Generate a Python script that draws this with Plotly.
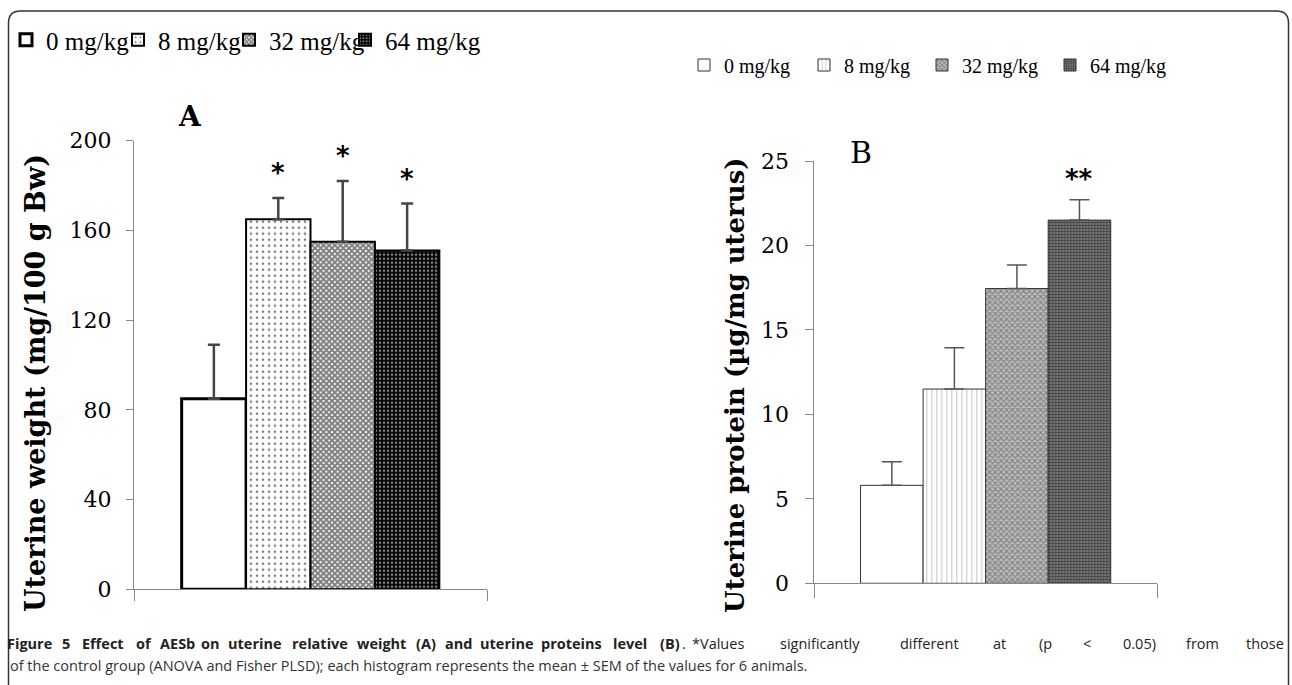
import plotly.graph_objects as go

# ---------------- data ----------------
doses = ["0 mg/kg", "8 mg/kg", "32 mg/kg", "64 mg/kg"]
weight_mean = [85, 165, 155, 151]
weight_sem = [24, 9.5, 27, 21]
weight_sig = ["", "*", "*", "*"]
protein_mean = [5.8, 11.5, 17.45, 21.5]
protein_sem = [1.4, 2.45, 1.4, 1.2]
protein_sig = ["", "", "", "**"]
weight_ticks = [0, 40, 80, 120, 160, 200]
protein_ticks = [0, 5, 10, 15, 20, 25]
weight_title = "Uterine weight (mg/100 g Bw)"
protein_title = "Uterine protein (\u00b5g/mg uterus)"
caption_bold = "Figure 5 Effect of AESb on uterine relative weight (A) and uterine proteins level (B)"
caption_line1 = "*Values significantly different at (p &lt; 0.05) from those"
caption_line2 = "of the control group (ANOVA and Fisher PLSD); each histogram represents the mean \u00b1 SEM of the values for 6 animals."

# ---------------- styles / layout ----------------
W, H = 1292, 685
BARGAP = 0.27


def px(x):
    return x / W


def py(y):
    return 1 - y / H


style_A = [
    dict(color="white", line=dict(color="black", width=3), pattern=dict(shape="")),
    dict(color="white", line=dict(color="black", width=2),
         pattern=dict(shape=".", bgcolor="white", fgcolor="black", size=6, solidity=0.15)),
    dict(color="white", line=dict(color="black", width=2),
         pattern=dict(shape="x", bgcolor="white", fgcolor="black", size=4, solidity=0.75)),
    dict(color="black", line=dict(color="black", width=2),
         pattern=dict(shape=".", bgcolor="black", fgcolor="white", size=4, solidity=0.35)),
]
style_B = [
    dict(color="white", line=dict(color="#333", width=1), pattern=dict(shape="")),
    dict(color="white", line=dict(color="#333", width=1),
         pattern=dict(shape="|", bgcolor="white", fgcolor="#8a8a8a", size=5, solidity=0.2)),
    dict(color="#999", line=dict(color="#333", width=1),
         pattern=dict(shape="x", bgcolor="#bdbdbd", fgcolor="#4a4a4a", size=4, solidity=0.5)),
    dict(color="#444", line=dict(color="#333", width=1),
         pattern=dict(shape="+", bgcolor="#7a7a7a", fgcolor="#1a1a1a", size=3, solidity=0.6)),
]

# legend item positions (px, left edge of each one-item legend)
legend_A_x = [6, 118, 229, 345]
legend_B_x = [684, 804, 922, 1050]
legend_A_y, legend_B_y = 40, 65

fig = go.Figure()
for i, d in enumerate(doses):
    fig.add_trace(go.Bar(
        x=["A"], y=[weight_mean[i]], name=d, legend="legend" if i == 0 else f"legend{i + 1}",
        xaxis="x", yaxis="y", marker=style_A[i],
        error_y=dict(type="data", symmetric=False, array=[weight_sem[i]], arrayminus=[0],
                     color="#444", thickness=2.5, width=6),
        hoverinfo="skip"))
for i, d in enumerate(doses):
    fig.add_trace(go.Bar(
        x=["B"], y=[protein_mean[i]], name=d, legend=f"legend{i + 5}",
        xaxis="x2", yaxis="y2", marker=style_B[i],
        error_y=dict(type="data", symmetric=False, array=[protein_sem[i]], arrayminus=[0],
                     color="#555", thickness=1.5, width=10),
        hoverinfo="skip"))

n = len(doses)
bw = (1 - BARGAP) / n


def bar_center(i):
    return -(1 - BARGAP) / 2 + (i + 0.5) * bw


annotations = []
for i, s in enumerate(weight_sig):
    if s:
        annotations.append(dict(x=bar_center(i), y=weight_mean[i] + weight_sem[i], xref="x", yref="y",
                                text=s, showarrow=False, xanchor="center", yanchor="bottom", yshift=8,
                                font=dict(family="DejaVu Sans", size=26, color="black", weight="bold")))
for i, s in enumerate(protein_sig):
    if s:
        annotations.append(dict(x=bar_center(i), y=protein_mean[i] + protein_sem[i], xref="x2", yref="y2",
                                text=s, showarrow=False, xanchor="center", yanchor="bottom", yshift=4,
                                font=dict(family="DejaVu Sans", size=26, color="black", weight="bold")))


def paper_text(xp, yp, text, font, **kw):
    d = dict(x=px(xp), y=py(yp), xref="paper", yref="paper", text=text, showarrow=False,
             xanchor="center", yanchor="middle", font=font)
    d.update(kw)
    return d


annotations += [
    paper_text(190, 116, "A", dict(family="DejaVu Serif", size=28, color="black", weight="bold")),
    paper_text(861, 152, "B", dict(family="DejaVu Serif", size=30, color="black")),
    paper_text(35, 383, weight_title, dict(family="DejaVu Serif", size=27, color="black", weight="bold"),
               textangle=-90),
    paper_text(735, 385, protein_title, dict(family="DejaVu Serif", size=26, color="black", weight="bold"),
               textangle=-90),
    paper_text(8, 665, caption_line2, dict(family="Open Sans", size=14.5, color="#333"), xanchor="left"),
]


# first caption line is justified: spread words between the given pixel limits
def justify(words, x_start, x_end, char_w, ypx, bold):
    widths = [len(w.replace("&lt;", "<")) * char_w for w in words]
    gap = (x_end - x_start - sum(widths)) / (len(words) - 1)
    out, x = [], x_start
    for w, wd in zip(words, widths):
        txt = f"<b>{w}</b>" if bold else w
        out.append(paper_text(x + wd / 2, ypx, txt, dict(family="Open Sans", size=14.5, color="#222")))
        x += wd + gap
    return out


annotations += justify(caption_bold.split(" "), 8, 681, 7.06, 643, True)
annotations.append(paper_text(684, 643, ".", dict(family="Open Sans", size=14.5, color="#222")))
annotations += justify(caption_line1.split(" "), 693, 1283, 7.14, 643, False)

# rounded frame
x0, x1 = px(8.5), px(1288.5)
yt, yb = py(11), -0.02
rx, ry = 12 / W, 12 / H
frame = (f"M {x0},{yb} L {x0},{yt - ry} Q {x0},{yt} {x0 + rx},{yt} "
         f"L {x1 - rx},{yt} Q {x1},{yt} {x1},{yt - ry} L {x1},{yb}")

axis_common_x = dict(type="category", range=[-0.5, 0.5], showticklabels=False, showline=True,
                     linecolor="#888", linewidth=1, ticks="outside", tickson="boundaries",
                     tickcolor="#888", showgrid=False, zeroline=False, fixedrange=True,
                     automargin=False)
axis_common_y = dict(ticks="outside", tickcolor="#888", showline=True, linecolor="#888", linewidth=1,
                     showgrid=False, zeroline=False, fixedrange=True, automargin=False,
                     tickfont=dict(family="DejaVu Serif", size=22, color="black"))


def legend_box(xpx, ypx, size):
    return dict(orientation="h", x=px(xpx), y=py(ypx), xanchor="left", yanchor="middle",
                font=dict(family="Liberation Serif", size=size, color="black"),
                bgcolor="rgba(0,0,0,0)", borderwidth=0,
                itemclick=False, itemdoubleclick=False)


legends = {}
for i in range(4):
    key = "legend" if i == 0 else f"legend{i + 1}"
    legends[key] = legend_box(legend_A_x[i], legend_A_y, 25)
    legends[f"legend{i + 5}"] = legend_box(legend_B_x[i], legend_B_y, 20)

fig.update_layout(
    width=W, height=H, margin=dict(l=0, r=0, t=0, b=0, autoexpand=False),
    paper_bgcolor="white", plot_bgcolor="white",
    barmode="group", bargap=BARGAP, bargroupgap=0,
    xaxis=dict(domain=[px(134), px(487)], anchor="y", ticklen=11, **axis_common_x),
    yaxis=dict(domain=[py(589.3), py(140.7)], anchor="x", range=[0, 200], tickvals=weight_ticks,
               ticklen=7, ticklabelstandoff=10, **axis_common_y),
    xaxis2=dict(domain=[px(814.3), px(1157)], anchor="y2", ticklen=14, **axis_common_x),
    yaxis2=dict(domain=[py(583.3), py(161)], anchor="x2", range=[0, 25], tickvals=protein_ticks,
                ticklen=8, ticklabelstandoff=12, **axis_common_y),
    annotations=annotations,
    shapes=[dict(type="path", path=frame, xref="paper", yref="paper",
                 line=dict(color="#333", width=1.5))],
    showlegend=True,
    **legends,
)

fig.write_html("out.html", config={"displayModeBar": False},
               post_script="document.body.style.margin='0';")
